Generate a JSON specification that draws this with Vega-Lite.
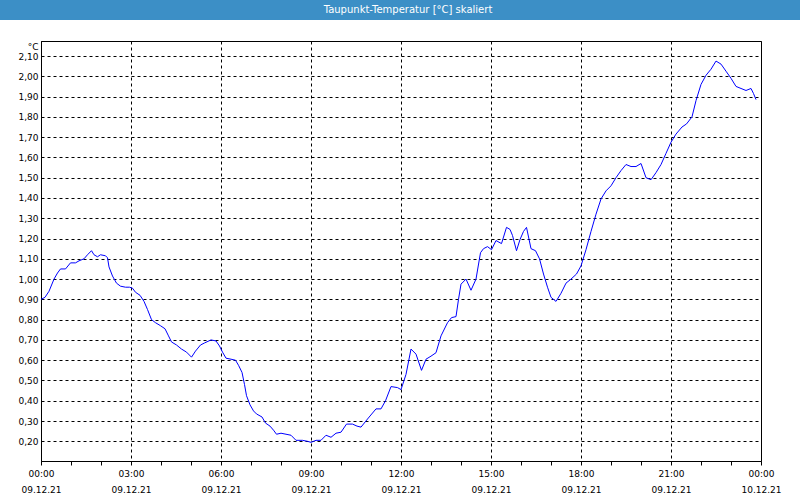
{
  "$schema": "https://vega.github.io/schema/vega-lite/v6.json",
  "background": "white",
  "padding": 0,
  "spacing": 20,
  "config": {
    "font": "DejaVu Sans",
    "view": {"stroke": null}
  },
  "vconcat": [
    {
      "width": 800,
      "height": 20,
      "data": {"values": [{"label": "Taupunkt-Temperatur [°C] skaliert", "a": 0, "b": 1}]},
      "layer": [
        {
          "mark": {"type": "rect", "color": "#3c8fc6"},
          "encoding": {
            "x": {"field": "a", "type": "quantitative", "scale": {"domain": [0, 1], "nice": false}, "axis": null},
            "x2": {"field": "b"},
            "y": {"field": "a", "type": "quantitative", "scale": {"domain": [0, 1], "nice": false}, "axis": null},
            "y2": {"field": "b"}
          }
        },
        {
          "mark": {"type": "text", "color": "white", "fontSize": 10, "align": "center", "baseline": "middle", "dx": 8},
          "encoding": {"text": {"field": "label"}}
        }
      ]
    },
    {
      "spacing": 0,
      "hconcat": [
        {
          "width": 1,
          "height": 420,
          "data": {"values": [{"s": ""}]},
          "mark": {"type": "text"},
          "encoding": {"text": {"field": "s"}}
        },
        {
          "width": 720,
          "height": 420,
          "view": {"stroke": "black", "strokeWidth": 1},
          "data": {"values": [
            {"t": "2021-12-09T00:00", "v": 0.90},
            {"t": "2021-12-09T00:08", "v": 0.91},
            {"t": "2021-12-09T00:16", "v": 0.94},
            {"t": "2021-12-09T00:26", "v": 1.00},
            {"t": "2021-12-09T00:33", "v": 1.03},
            {"t": "2021-12-09T00:39", "v": 1.05},
            {"t": "2021-12-09T00:49", "v": 1.05},
            {"t": "2021-12-09T00:59", "v": 1.08},
            {"t": "2021-12-09T01:09", "v": 1.08},
            {"t": "2021-12-09T01:16", "v": 1.09},
            {"t": "2021-12-09T01:26", "v": 1.10},
            {"t": "2021-12-09T01:33", "v": 1.12},
            {"t": "2021-12-09T01:41", "v": 1.14},
            {"t": "2021-12-09T01:46", "v": 1.12},
            {"t": "2021-12-09T01:53", "v": 1.11},
            {"t": "2021-12-09T01:59", "v": 1.12},
            {"t": "2021-12-09T02:09", "v": 1.115},
            {"t": "2021-12-09T02:13", "v": 1.105},
            {"t": "2021-12-09T02:16", "v": 1.06},
            {"t": "2021-12-09T02:23", "v": 1.015},
            {"t": "2021-12-09T02:31", "v": 0.98},
            {"t": "2021-12-09T02:39", "v": 0.965},
            {"t": "2021-12-09T02:49", "v": 0.96},
            {"t": "2021-12-09T02:57", "v": 0.96},
            {"t": "2021-12-09T03:03", "v": 0.955},
            {"t": "2021-12-09T03:09", "v": 0.935},
            {"t": "2021-12-09T03:18", "v": 0.92},
            {"t": "2021-12-09T03:26", "v": 0.89},
            {"t": "2021-12-09T03:33", "v": 0.85},
            {"t": "2021-12-09T03:41", "v": 0.80},
            {"t": "2021-12-09T03:49", "v": 0.785},
            {"t": "2021-12-09T03:59", "v": 0.77},
            {"t": "2021-12-09T04:08", "v": 0.755},
            {"t": "2021-12-09T04:15", "v": 0.72},
            {"t": "2021-12-09T04:21", "v": 0.69},
            {"t": "2021-12-09T04:31", "v": 0.675},
            {"t": "2021-12-09T04:41", "v": 0.655},
            {"t": "2021-12-09T04:51", "v": 0.64},
            {"t": "2021-12-09T05:01", "v": 0.615},
            {"t": "2021-12-09T05:09", "v": 0.645},
            {"t": "2021-12-09T05:19", "v": 0.675},
            {"t": "2021-12-09T05:27", "v": 0.685},
            {"t": "2021-12-09T05:40", "v": 0.70},
            {"t": "2021-12-09T05:50", "v": 0.695},
            {"t": "2021-12-09T05:57", "v": 0.67},
            {"t": "2021-12-09T06:03", "v": 0.64},
            {"t": "2021-12-09T06:10", "v": 0.61},
            {"t": "2021-12-09T06:20", "v": 0.605},
            {"t": "2021-12-09T06:29", "v": 0.60},
            {"t": "2021-12-09T06:35", "v": 0.575},
            {"t": "2021-12-09T06:42", "v": 0.54},
            {"t": "2021-12-09T06:47", "v": 0.48},
            {"t": "2021-12-09T06:51", "v": 0.425},
            {"t": "2021-12-09T06:58", "v": 0.38},
            {"t": "2021-12-09T07:05", "v": 0.35},
            {"t": "2021-12-09T07:11", "v": 0.335},
            {"t": "2021-12-09T07:22", "v": 0.32},
            {"t": "2021-12-09T07:29", "v": 0.29},
            {"t": "2021-12-09T07:38", "v": 0.275},
            {"t": "2021-12-09T07:45", "v": 0.255},
            {"t": "2021-12-09T07:51", "v": 0.235},
            {"t": "2021-12-09T08:00", "v": 0.24},
            {"t": "2021-12-09T08:10", "v": 0.235},
            {"t": "2021-12-09T08:20", "v": 0.23},
            {"t": "2021-12-09T08:30", "v": 0.205},
            {"t": "2021-12-09T08:43", "v": 0.205},
            {"t": "2021-12-09T08:53", "v": 0.20},
            {"t": "2021-12-09T09:00", "v": 0.195},
            {"t": "2021-12-09T09:10", "v": 0.205},
            {"t": "2021-12-09T09:20", "v": 0.205},
            {"t": "2021-12-09T09:30", "v": 0.23},
            {"t": "2021-12-09T09:40", "v": 0.22},
            {"t": "2021-12-09T09:50", "v": 0.24},
            {"t": "2021-12-09T10:00", "v": 0.245},
            {"t": "2021-12-09T10:11", "v": 0.285},
            {"t": "2021-12-09T10:23", "v": 0.285},
            {"t": "2021-12-09T10:32", "v": 0.275},
            {"t": "2021-12-09T10:40", "v": 0.27},
            {"t": "2021-12-09T10:53", "v": 0.31},
            {"t": "2021-12-09T11:10", "v": 0.36},
            {"t": "2021-12-09T11:20", "v": 0.36},
            {"t": "2021-12-09T11:29", "v": 0.40},
            {"t": "2021-12-09T11:40", "v": 0.47},
            {"t": "2021-12-09T11:53", "v": 0.465},
            {"t": "2021-12-09T12:00", "v": 0.455},
            {"t": "2021-12-09T12:10", "v": 0.53},
            {"t": "2021-12-09T12:20", "v": 0.655},
            {"t": "2021-12-09T12:30", "v": 0.63},
            {"t": "2021-12-09T12:41", "v": 0.55},
            {"t": "2021-12-09T12:50", "v": 0.605},
            {"t": "2021-12-09T13:00", "v": 0.62},
            {"t": "2021-12-09T13:10", "v": 0.637},
            {"t": "2021-12-09T13:20", "v": 0.72},
            {"t": "2021-12-09T13:33", "v": 0.785},
            {"t": "2021-12-09T13:41", "v": 0.81},
            {"t": "2021-12-09T13:50", "v": 0.815},
            {"t": "2021-12-09T13:55", "v": 0.90},
            {"t": "2021-12-09T14:00", "v": 0.975},
            {"t": "2021-12-09T14:10", "v": 1.00},
            {"t": "2021-12-09T14:20", "v": 0.945},
            {"t": "2021-12-09T14:30", "v": 1.00},
            {"t": "2021-12-09T14:39", "v": 1.13},
            {"t": "2021-12-09T14:45", "v": 1.15},
            {"t": "2021-12-09T14:53", "v": 1.16},
            {"t": "2021-12-09T15:01", "v": 1.145},
            {"t": "2021-12-09T15:10", "v": 1.19},
            {"t": "2021-12-09T15:21", "v": 1.175},
            {"t": "2021-12-09T15:31", "v": 1.255},
            {"t": "2021-12-09T15:38", "v": 1.245},
            {"t": "2021-12-09T15:43", "v": 1.215},
            {"t": "2021-12-09T15:51", "v": 1.14},
            {"t": "2021-12-09T15:58", "v": 1.195},
            {"t": "2021-12-09T16:05", "v": 1.235},
            {"t": "2021-12-09T16:11", "v": 1.255},
            {"t": "2021-12-09T16:20", "v": 1.15},
            {"t": "2021-12-09T16:29", "v": 1.14},
            {"t": "2021-12-09T16:37", "v": 1.10},
            {"t": "2021-12-09T16:45", "v": 1.025},
            {"t": "2021-12-09T16:53", "v": 0.96},
            {"t": "2021-12-09T17:00", "v": 0.91},
            {"t": "2021-12-09T17:10", "v": 0.89},
            {"t": "2021-12-09T17:20", "v": 0.93},
            {"t": "2021-12-09T17:30", "v": 0.98},
            {"t": "2021-12-09T17:40", "v": 1.00},
            {"t": "2021-12-09T17:51", "v": 1.025},
            {"t": "2021-12-09T18:00", "v": 1.065},
            {"t": "2021-12-09T18:10", "v": 1.145},
            {"t": "2021-12-09T18:20", "v": 1.235},
            {"t": "2021-12-09T18:30", "v": 1.32},
            {"t": "2021-12-09T18:40", "v": 1.395},
            {"t": "2021-12-09T18:50", "v": 1.435},
            {"t": "2021-12-09T19:00", "v": 1.46},
            {"t": "2021-12-09T19:10", "v": 1.50},
            {"t": "2021-12-09T19:20", "v": 1.535},
            {"t": "2021-12-09T19:30", "v": 1.565},
            {"t": "2021-12-09T19:40", "v": 1.555},
            {"t": "2021-12-09T19:50", "v": 1.555},
            {"t": "2021-12-09T20:00", "v": 1.57},
            {"t": "2021-12-09T20:10", "v": 1.50},
            {"t": "2021-12-09T20:20", "v": 1.49},
            {"t": "2021-12-09T20:30", "v": 1.525},
            {"t": "2021-12-09T20:40", "v": 1.565},
            {"t": "2021-12-09T20:50", "v": 1.62},
            {"t": "2021-12-09T21:00", "v": 1.675},
            {"t": "2021-12-09T21:10", "v": 1.715},
            {"t": "2021-12-09T21:22", "v": 1.75},
            {"t": "2021-12-09T21:31", "v": 1.765},
            {"t": "2021-12-09T21:42", "v": 1.80},
            {"t": "2021-12-09T21:50", "v": 1.88},
            {"t": "2021-12-09T22:00", "v": 1.96},
            {"t": "2021-12-09T22:10", "v": 2.005},
            {"t": "2021-12-09T22:20", "v": 2.035},
            {"t": "2021-12-09T22:30", "v": 2.075},
            {"t": "2021-12-09T22:40", "v": 2.06},
            {"t": "2021-12-09T22:50", "v": 2.025},
            {"t": "2021-12-09T23:00", "v": 1.99},
            {"t": "2021-12-09T23:10", "v": 1.95},
            {"t": "2021-12-09T23:20", "v": 1.94},
            {"t": "2021-12-09T23:30", "v": 1.93},
            {"t": "2021-12-09T23:40", "v": 1.94},
            {"t": "2021-12-09T23:45", "v": 1.915},
            {"t": "2021-12-09T23:50", "v": 1.885}
          ]},
          "mark": {"type": "line", "color": "#0000ff", "strokeWidth": 1},
          "encoding": {
            "x": {
              "field": "t",
              "type": "temporal",
              "scale": {"domain": ["2021-12-09T00:00", "2021-12-10T00:00"], "nice": false},
              "axis": {
                "title": null,
                "tickCount": 24,
                "labelExpr": "hours(datum.value) % 3 == 0 ? [timeFormat(datum.value, '%H:%M'), timeFormat(datum.value, '%d.%m.%y')] : ''",
                "labelLineHeight": 16,
                "labelPadding": 4,
                "grid": true,
                "gridColor": "black",
                "gridDash": [3, 3],
                "gridOpacity": {"condition": {"test": "hours(datum.value) % 3 == 0", "value": 1}, "value": 0},
                "labelFontSize": 9,
                "labelColor": "black",
                "labelFlush": false,
                "tickSize": 4,
                "tickColor": "black",
                "domainColor": "black"
              }
            },
            "y": {
              "field": "v",
              "type": "quantitative",
              "scale": {"domain": [0.103, 2.174], "nice": false, "zero": false},
              "axis": {
                "values": [0.2, 0.3, 0.4, 0.5, 0.6, 0.7, 0.8, 0.9, 1.0, 1.1, 1.2, 1.3, 1.4, 1.5, 1.6, 1.7, 1.8, 1.9, 2.0, 2.1],
                "labelExpr": "replace(format(datum.value, '.2f'), '.', ',')",
                "ticks": false,
                "labelPadding": 3,
                "labelFontSize": 9,
                "labelColor": "black",
                "grid": true,
                "gridColor": "black",
                "gridDash": [3, 3],
                "domainColor": "black",
                "title": "°C",
                "titleAngle": 0,
                "titleX": -3,
                "titleY": 5,
                "titleAlign": "right",
                "titleBaseline": "middle",
                "titleFontWeight": "normal",
                "titleFontSize": 9,
                "titleColor": "black",
                "minExtent": 39,
                "maxExtent": 39
              }
            }
          }
        }
      ]
    }
  ]
}
